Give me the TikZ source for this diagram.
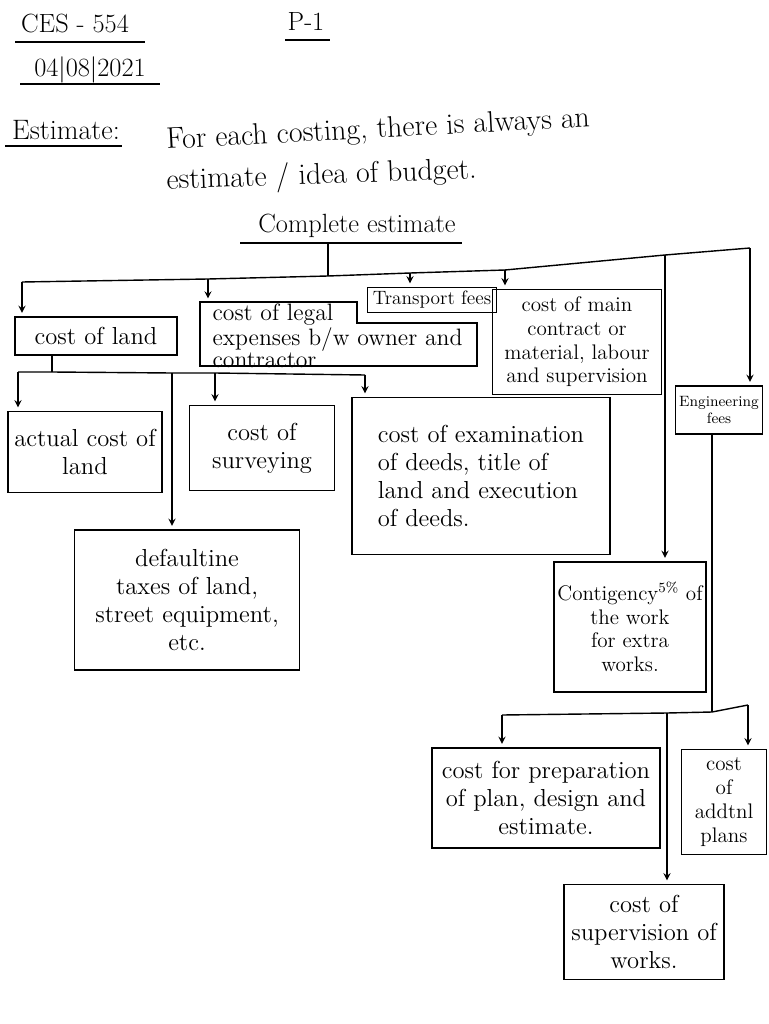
\documentclass[tikz,border=0pt]{standalone}
\usepackage{fontspec}
\usetikzlibrary{positioning, arrows.meta, calc}
\tikzset{every picture/.append style={thick}}
\tikzset{
  hand/.style={font=\fontsize{14}{16}\selectfont},
  tight/.style={font=\fontsize{12}{13.5}\selectfont},
  box/.style={draw, thick, align=center, inner sep=2pt, hand},
  arr/.style={->, >=stealth, thick, shorten >=2pt}
}

\begin{document}
\begin{tikzpicture}[thick, x=0.02cm, y=-0.02cm]
    \useasboundingbox (0,0) rectangle (768,1024);

    % Header
    \node[font=\fontsize{15}{17}\selectfont] (ces) at (75,24) {CES - 554};
    \draw (15,42) -- (145,42);
    \node[font=\fontsize{15}{17}\selectfont] (page) at (306,22) {P-1};
    \draw (285,40) -- (330,40);
    \node[font=\fontsize{15}{17}\selectfont] (date) at (90,70) {04|08|2021};
    \draw (20,84) -- (160,84);

    % Definition
    \node[font=\fontsize{16}{18}\selectfont] (est) at (66,130) {Estimate:};
    \draw (5,146) -- (122,146);
    \node[font=\fontsize{17}{19}\selectfont, anchor=west, rotate=3] (defn) at (160,142) {For each costing, there is always an};
    \node[font=\fontsize{17}{19}\selectfont, anchor=west, rotate=2] (defnb) at (160,182) {estimate / idea of budget.};

    % Complete estimate
    \node[font=\fontsize{15}{17}\selectfont] (ce) at (357,226) {Complete estimate};
    \draw (240,243) -- (462,243);

    % First level boxes
    \node[box, minimum width=3.24cm, minimum height=0.76cm] (land) at (96,336) {cost of land};
    \node[box, font=\fontsize{11}{12}\selectfont, minimum width=2.58cm, minimum height=0.5cm] (transport) at (432,300) {Transport fees};
    \node[font=\fontsize{13.5}{11.5}\selectfont, anchor=west, align=left] (legal) at (206,336) {cost of legal\\expenses b/w owner and\\contractor};
    \coordinate (lg1) at (200,302);
    \draw (lg1) -- (357,302) -- (357,323) -- (477,323) -- (477,366) -- (200,366) -- cycle;
    \node[box, tight, minimum width=3.38cm, minimum height=2.1cm] (main) at (577,342) {cost of main\\contract or\\material, labour\\and supervision};
    \node[box, font=\fontsize{8.5}{10}\selectfont, minimum width=1.64cm, minimum height=0.96cm] (eng) at (719,410) {Engineering\\fees};

    % Second level boxes
    \node[box, minimum width=3.08cm, minimum height=1.62cm] (actual) at (85,452) {actual cost of\\land};
    \node[box, minimum width=2.9cm, minimum height=1.7cm] (survey) at (262,448) {cost of\\surveying};
    \node[box, align=left, minimum width=5.16cm, minimum height=3.14cm] (exam) at (481,476) {cost of examination\\of deeds, title of\\land and execution\\of deeds.};
    \node[box, minimum width=4.5cm, minimum height=2.8cm] (default) at (187,600) {defaultine\\taxes of land,\\street equipment,\\etc.};
    \node[box, tight, minimum width=3.0cm, minimum height=2.6cm] (conting) at (630,627) {Contigency\textsuperscript{5\%} of\\the work\\for extra\\works.};

    % Engineering fees boxes
    \node[box, minimum width=4.56cm, minimum height=2.0cm] (prep) at (546,798) {cost for preparation\\of plan, design and\\estimate.};
    \node[box, tight, minimum width=1.7cm, minimum height=2.1cm] (addtl) at (724,802) {cost\\of\\addtnl\\plans};
    \node[box, minimum width=3.2cm, minimum height=1.9cm] (superv) at (644,932) {cost of\\supervision of\\works.};

    % Top bus
    \coordinate (ceu) at (328,243);
    \coordinate (t0) at (22,282);
    \coordinate (t1) at (208,279);
    \coordinate (tc) at (328,276);
    \coordinate (t2) at (410,273);
    \coordinate (t3) at (505,270);
    \coordinate (t4) at (665,255);
    \coordinate (t5) at (750,248);
    \draw (ceu) -- (tc);
    \draw (t0) -- (t1) -- (tc) -- (t2) -- (t3) -- (t4) -- (t5);
    \draw[arr] (t0) -- (t0 |- land.north);
    \draw[arr] (t1) -- (t1 |- lg1);
    \draw[arr] (t2) -- (t2 |- transport.north);
    \draw[arr] (t3) -- (t3 |- main.north);
    \draw[arr] (t4) -- (t4 |- conting.north);
    \draw[arr] (t5) -- (t5 |- eng.north);

    % Cost of land bus
    \coordinate (s0) at (18,372);
    \coordinate (sl) at (52,372);
    \coordinate (s1) at (172,373);
    \coordinate (s2) at (215,373);
    \coordinate (s3) at (365,375);
    \draw (sl |- land.south) -- (sl);
    \draw (s0) -- (sl) -- (s1) -- (s2) -- (s3);
    \draw[arr] (s0) -- (s0 |- actual.north);
    \draw[arr] (s1) -- (s1 |- default.north);
    \draw[arr] (s2) -- (s2 |- survey.north);
    \draw[arr] (s3) -- (s3 |- exam.north);

    % Engineering fees bus
    \coordinate (e0) at (712,712);
    \coordinate (e1) at (502,715);
    \coordinate (e2) at (667,713);
    \coordinate (e3) at (748,705);
    \draw (e0 |- eng.south) -- (e0);
    \draw (e1) -- (e2) -- (e0) -- (e3);
    \draw[arr] (e1) -- (e1 |- prep.north);
    \draw[arr] (e2) -- (e2 |- superv.north);
    \draw[arr] (e3) -- (e3 |- addtl.north);
\end{tikzpicture}
\end{document}
